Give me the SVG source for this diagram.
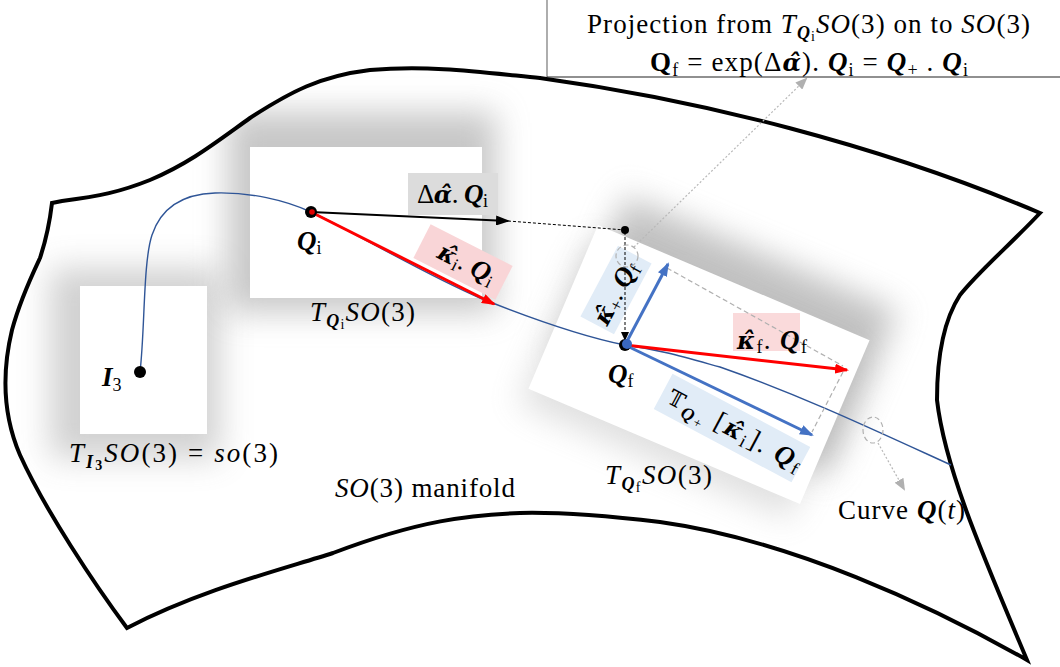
<svg xmlns="http://www.w3.org/2000/svg" width="1060" height="667" viewBox="0 0 1060 667">
<style>
.t{font-family:"Liberation Serif","DejaVu Serif",serif;font-size:27px;fill:#000}
.i{font-style:italic}
.b{font-weight:bold}
.h{font-family:"DejaVu Serif",serif;font-size:24px}
.s{font-size:18px}
.ss{font-size:14px}
.plane{fill:#fff}
.shadow{fill:#9a9a9a;filter:url(#blur)}
.dash-g{fill:none;stroke:#b0b0b0;stroke-width:1.2;stroke-dasharray:5,3}
.dot-g{fill:none;stroke:#b8b8b8;stroke-width:1.2;stroke-dasharray:2,2}
</style>
<defs>
<filter id="blur" x="-50%" y="-50%" width="200%" height="200%"><feGaussianBlur stdDeviation="16"/></filter>
<clipPath id="mclip"><path id="mpath" d="M52,203 L62,201 C100,196 120,192 150,180 C190,163 215,143 250,118 C290,92 320,76 370,70 C430,65 480,72 540,78 C700,100 880,145 1040,213 C1010,245 980,270 960,295 C945,318 937,350 937,400 C945,470 985,560 1027,660 C930,605 790,540 660,522 C600,515 560,512 520,513 C470,515 420,520 333,553 C280,570 200,590 127,628 C95,585 45,510 20,455 C5,420 0,380 12,330 C20,300 32,275 40,258 C46,240 50,220 52,203 Z"/></clipPath>
<marker id="mk-red" markerWidth="14" markerHeight="10" refX="12" refY="5" orient="auto" markerUnits="userSpaceOnUse"><path d="M0,0 L14,5 L0,10 Z" fill="#ff0000"/></marker>
<marker id="mk-blue" markerWidth="14" markerHeight="10" refX="12" refY="5" orient="auto" markerUnits="userSpaceOnUse"><path d="M0,0 L14,5 L0,10 Z" fill="#4472c4"/></marker>
<marker id="mk-black" markerWidth="14" markerHeight="10" refX="12" refY="5" orient="auto" markerUnits="userSpaceOnUse"><path d="M0,0 L14,5 L0,10 Z" fill="#000"/></marker>
<marker id="mk-black-s" markerWidth="9" markerHeight="8" refX="8" refY="4" orient="auto" markerUnits="userSpaceOnUse"><path d="M0,0 L9,4 L0,8 Z" fill="#000"/></marker>
<marker id="mk-gray" markerWidth="12" markerHeight="10" refX="10" refY="5" orient="auto" markerUnits="userSpaceOnUse"><path d="M0,0 L12,5 L0,10 Z" fill="#b0b0b0"/></marker>
</defs>

<rect width="1060" height="667" fill="#fff"/>

<!-- manifold -->
<g id="manifold">
<use href="#mpath" fill="#fff"/>
<g clip-path="url(#mclip)">
<rect class="shadow" x="50" y="268" width="170" height="190" opacity="0.45"/>
<rect class="shadow" x="228" y="112" width="268" height="200" opacity="0.55"/>
<rect class="shadow" x="0" y="0" width="295" height="178" transform="translate(626,196) rotate(23)" opacity="0.6"/>
<rect class="shadow" x="0" y="0" width="295" height="178" transform="translate(588,240) rotate(23)" opacity="0.3"/>
</g>
<use href="#mpath" fill="none" stroke="#000" stroke-width="4" stroke-linejoin="miter"/>
</g>

<!-- tangent planes -->
<g id="plane-I3"><rect class="plane" x="80" y="286" width="127" height="148"/></g>
<g id="plane-Qi"><rect class="plane" x="250" y="147" width="232" height="151"/></g>
<g id="plane-Qf"><rect class="plane" x="0" y="0" width="295" height="178" transform="translate(598,225) rotate(23)"/></g>

<!-- label boxes -->
<g id="label-boxes">
<rect x="408" y="173" width="90" height="42" fill="#dcdcdc"/>
<rect x="-46" y="-19" width="92" height="38" fill="#f9d5d7" transform="translate(463,262) rotate(27)"/>
<rect x="733" y="313" width="67" height="38" fill="#fadadb"/>
<rect x="-40" y="-19" width="80" height="38" fill="#e1ecf7" transform="translate(616,290) rotate(-62)"/>
<rect x="-78" y="-20" width="156" height="40" fill="#e1ecf7" transform="translate(732,428) rotate(28)"/>
</g>

<!-- curve -->
<g id="curve">
<path d="M140,372 C145,330 143,262 152,235 C162,205 185,194 215,193 C250,192 285,200 311,212 C360,235 420,272 480,298 C540,322 590,338 625,345 C660,350 680,356 720,367 C800,395 870,428 951,465" fill="none" stroke="#2f5597" stroke-width="1.4"/>
</g>

<!-- connectors -->
<g id="connectors">
<line x1="311" y1="212" x2="508" y2="221" stroke="#000" stroke-width="2.2" marker-end="url(#mk-black)"/>
<line x1="508" y1="221" x2="625" y2="230" stroke="#000" stroke-width="1" stroke-dasharray="3,2"/>
<line x1="625" y1="232" x2="625" y2="340" stroke="#000" stroke-width="1" stroke-dasharray="3,2" marker-end="url(#mk-black-s)"/>
<line x1="311" y1="212" x2="494" y2="304" stroke="#ff0000" stroke-width="3" marker-end="url(#mk-red)"/>
<line x1="667" y1="268" x2="843" y2="366" class="dash-g"/>
<line x1="843" y1="372" x2="812" y2="432" class="dash-g"/>
<line x1="625" y1="345" x2="668" y2="264" stroke="#4472c4" stroke-width="3" marker-end="url(#mk-blue)"/>
<line x1="625" y1="345" x2="847" y2="370" stroke="#ff0000" stroke-width="3" marker-end="url(#mk-red)"/>
<line x1="625" y1="345" x2="812" y2="435" stroke="#4472c4" stroke-width="3" marker-end="url(#mk-blue)"/>
<circle cx="627" cy="256" r="11" class="dash-g"/>
<line x1="634" y1="247" x2="806" y2="79" class="dot-g" marker-end="url(#mk-gray)"/>
<ellipse cx="873" cy="430" rx="10" ry="13" class="dash-g"/>
<line x1="878" y1="443" x2="904" y2="489" class="dot-g" marker-end="url(#mk-gray)"/>
</g>

<!-- nodes -->
<g id="node-I3"><circle cx="140" cy="372" r="6" fill="#000"/></g>
<g id="node-Qi"><circle cx="311" cy="212" r="6" fill="#000"/><circle cx="312" cy="212" r="2.8" fill="#e00000"/></g>
<g id="node-aux"><circle cx="625" cy="230" r="4" fill="#000"/></g>
<g id="node-Qf"><circle cx="625" cy="345" r="6" fill="#000"/><circle cx="627" cy="344" r="5" fill="#3a68c0"/></g>

<!-- projection box -->
<g id="projection-box">
<rect x="547" y="-2" width="520" height="79" fill="#fff"/>
<line x1="547" y1="0" x2="547" y2="77" stroke="#777" stroke-width="1.2"/>
<line x1="547" y1="77" x2="1060" y2="77" stroke="#222" stroke-width="1.2"/>
<text class="t" x="587" y="33" textLength="443">Projection from <tspan class="i">T</tspan><tspan class="i b s" dy="6">Q</tspan><tspan class="ss" dy="2">i</tspan><tspan class="i" dy="-8">SO</tspan>(3) on to <tspan class="i">SO</tspan>(3)</text>
<text class="t" x="650" y="71" textLength="318"><tspan class="b">Q</tspan><tspan class="s" dy="5">f</tspan><tspan dy="-5"> = exp(Δ</tspan><tspan class="b i h">α̂</tspan>). <tspan class="b i">Q</tspan><tspan class="s" dy="5">i</tspan><tspan dy="-5"> = </tspan><tspan class="b i">Q</tspan><tspan class="s" dy="5">+</tspan><tspan dy="-5"> . </tspan><tspan class="b i">Q</tspan><tspan class="s" dy="5">i</tspan></text>
</g>

<!-- labels -->
<g id="labels">
<text class="t" x="417" y="203" textLength="71">Δ<tspan class="b i h">α̂</tspan>. <tspan class="b i">Q</tspan><tspan class="s" dy="4">i</tspan></text>
<text class="t" x="297" y="250"><tspan class="b i">Q</tspan><tspan class="s" dy="4">i</tspan></text>
<text class="t" transform="translate(463,271) rotate(27)" text-anchor="middle"><tspan class="b i h">κ̂</tspan><tspan class="s" dy="4">i</tspan><tspan dy="-4">. </tspan><tspan class="b i">Q</tspan><tspan class="s" dy="4">i</tspan></text>
<text class="t" x="310" y="321" textLength="105"><tspan class="i">T</tspan><tspan class="i b s" dy="6">Q</tspan><tspan class="ss" dy="2">i</tspan><tspan class="i" dy="-8">SO</tspan>(3)</text>
<text class="t" x="102" y="386"><tspan class="b i">I</tspan><tspan class="s" dy="5">3</tspan></text>
<text class="t" x="69" y="462" textLength="209"><tspan class="i">T</tspan><tspan class="i b s" dy="6">I</tspan><tspan class="ss b" dy="2">3</tspan><tspan class="i" dy="-8">SO</tspan>(3) = <tspan class="i">so</tspan>(3)</text>
<text class="t" x="335" y="497" textLength="180"><tspan class="i">SO</tspan>(3) manifold</text>
<text class="t" x="605" y="484" textLength="107"><tspan class="i">T</tspan><tspan class="i b s" dy="6">Q</tspan><tspan class="ss" dy="2">f</tspan><tspan class="i" dy="-8">SO</tspan>(3)</text>
<text class="t" x="838" y="519" textLength="127">Curve <tspan class="b i">Q</tspan>(<tspan class="i">t</tspan>)</text>
<text class="t" x="608" y="383"><tspan class="b i">Q</tspan><tspan class="s" dy="4">f</tspan></text>
<text class="t" x="737" y="349" textLength="70"><tspan class="b i h">κ̂</tspan><tspan class="s" dy="4">f</tspan><tspan dy="-4">. </tspan><tspan class="b i">Q</tspan><tspan class="s" dy="4">f</tspan></text>
<text class="t" transform="translate(623,297) rotate(-62)" text-anchor="middle"><tspan class="b i h">κ̂</tspan><tspan class="s" dy="4">+</tspan><tspan dy="-4">. </tspan><tspan class="b i">Q</tspan><tspan class="s" dy="4">f</tspan></text>
<text class="t" transform="translate(731,437) rotate(28)" text-anchor="middle" textLength="148"><tspan font-family="DejaVu Serif,DejaVu Sans,serif" font-size="22">𝕋</tspan><tspan class="b i s" dy="6">Q</tspan><tspan class="ss" dy="2">+</tspan><tspan dy="-8"> [</tspan><tspan class="b i h">κ̂</tspan><tspan class="s" dy="4">i</tspan><tspan dy="-4">]. </tspan><tspan class="b i">Q</tspan><tspan class="s" dy="4">f</tspan></text>
</g>
</svg>
